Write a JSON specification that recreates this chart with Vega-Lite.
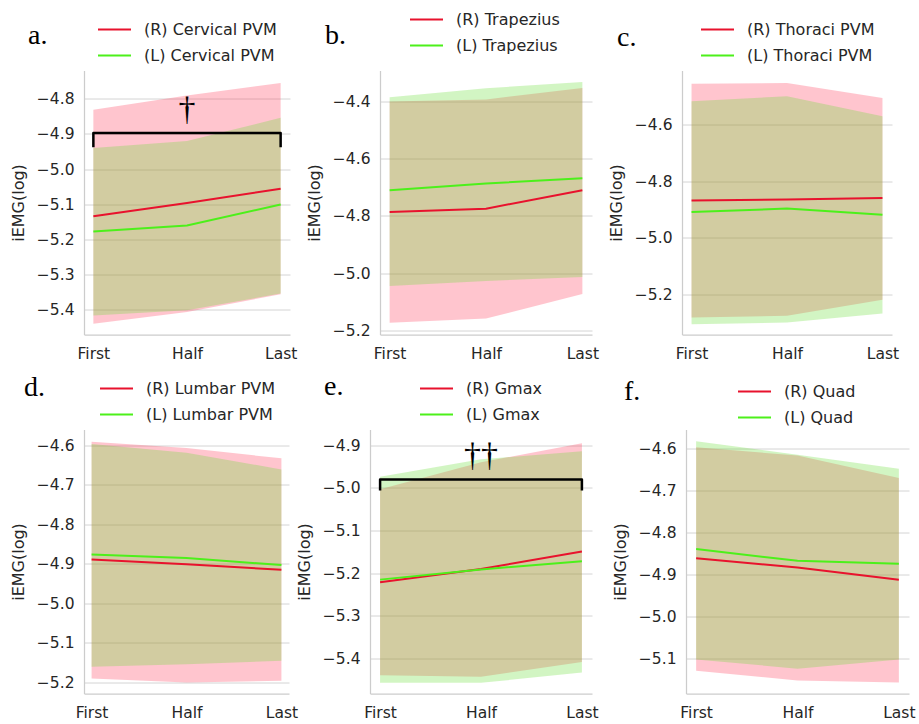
{
  "$schema": "https://vega.github.io/schema/vega-lite/v6.json",
  "padding": {"left": 10, "top": 1.5, "right": 0, "bottom": 0},
  "background": "white",
  "config": {
    "view": {"stroke": null},
    "font": "DejaVu Sans",
    "axis": {"domainColor": "#cccccc", "domainWidth": 1.25, "gridColor": "#d4d4d4", "gridWidth": 1, "tickSize": 0, "labelFont": "DejaVu Sans", "labelFontSize": 15.5, "labelColor": "#262626", "titleFont": "DejaVu Sans", "titleFontSize": 16, "titleFontWeight": "normal", "titleColor": "#262626", "labelPadding": 10, "titlePadding": 10},
    "axisX": {"labelPadding": 12},
    "legend": {"orient": "none", "title": null, "symbolType": "stroke", "symbolSize": 1089, "symbolStrokeWidth": 2, "labelFont": "DejaVu Sans", "labelFontSize": 16, "labelColor": "#262626", "rowPadding": -8, "padding": 0, "labelOffset": 12},
    "title": {"anchor": "start", "frame": "group", "font": "Liberation Serif", "fontSize": 28, "fontWeight": "normal", "color": "black", "baseline": "alphabetic", "offset": 0}
  },
  "datasets": {
    "m": [
      {"p": "a", "s": "R", "lab": "(R) Cervical PVM", "t": "First", "mean": -5.135, "lo": -5.441, "hi": -4.831},
      {"p": "a", "s": "R", "lab": "(R) Cervical PVM", "t": "Half", "mean": -5.097, "lo": -5.408, "hi": -4.790},
      {"p": "a", "s": "R", "lab": "(R) Cervical PVM", "t": "Last", "mean": -5.056, "lo": -5.357, "hi": -4.755},
      {"p": "a", "s": "L", "lab": "(L) Cervical PVM", "t": "First", "mean": -5.178, "lo": -5.418, "hi": -4.940},
      {"p": "a", "s": "L", "lab": "(L) Cervical PVM", "t": "Half", "mean": -5.161, "lo": -5.403, "hi": -4.920},
      {"p": "a", "s": "L", "lab": "(L) Cervical PVM", "t": "Last", "mean": -5.101, "lo": -5.355, "hi": -4.854},
      {"p": "b", "s": "R", "lab": "(R) Trapezius", "t": "First", "mean": -4.787, "lo": -5.173, "hi": -4.401},
      {"p": "b", "s": "R", "lab": "(R) Trapezius", "t": "Half", "mean": -4.775, "lo": -5.158, "hi": -4.394},
      {"p": "b", "s": "R", "lab": "(R) Trapezius", "t": "Last", "mean": -4.711, "lo": -5.073, "hi": -4.354},
      {"p": "b", "s": "L", "lab": "(L) Trapezius", "t": "First", "mean": -4.711, "lo": -5.045, "hi": -4.386},
      {"p": "b", "s": "L", "lab": "(L) Trapezius", "t": "Half", "mean": -4.687, "lo": -5.027, "hi": -4.355},
      {"p": "b", "s": "L", "lab": "(L) Trapezius", "t": "Last", "mean": -4.669, "lo": -5.013, "hi": -4.333},
      {"p": "c", "s": "R", "lab": "(R) Thoraci PVM", "t": "First", "mean": -4.868, "lo": -5.282, "hi": -4.456},
      {"p": "c", "s": "R", "lab": "(R) Thoraci PVM", "t": "Half", "mean": -4.865, "lo": -5.276, "hi": -4.453},
      {"p": "c", "s": "R", "lab": "(R) Thoraci PVM", "t": "Last", "mean": -4.860, "lo": -5.219, "hi": -4.506},
      {"p": "c", "s": "L", "lab": "(L) Thoraci PVM", "t": "First", "mean": -4.909, "lo": -5.306, "hi": -4.518},
      {"p": "c", "s": "L", "lab": "(L) Thoraci PVM", "t": "Half", "mean": -4.897, "lo": -5.300, "hi": -4.500},
      {"p": "c", "s": "L", "lab": "(L) Thoraci PVM", "t": "Last", "mean": -4.919, "lo": -5.268, "hi": -4.571},
      {"p": "d", "s": "R", "lab": "(R) Lumbar PVM", "t": "First", "mean": -4.889, "lo": -5.190, "hi": -4.591},
      {"p": "d", "s": "R", "lab": "(R) Lumbar PVM", "t": "Half", "mean": -4.901, "lo": -5.200, "hi": -4.607},
      {"p": "d", "s": "R", "lab": "(R) Lumbar PVM", "t": "Last", "mean": -4.915, "lo": -5.196, "hi": -4.633},
      {"p": "d", "s": "L", "lab": "(L) Lumbar PVM", "t": "First", "mean": -4.876, "lo": -5.160, "hi": -4.597},
      {"p": "d", "s": "L", "lab": "(L) Lumbar PVM", "t": "Half", "mean": -4.885, "lo": -5.154, "hi": -4.619},
      {"p": "d", "s": "L", "lab": "(L) Lumbar PVM", "t": "Last", "mean": -4.903, "lo": -5.145, "hi": -4.661},
      {"p": "e", "s": "R", "lab": "(R) Gmax", "t": "First", "mean": -5.221, "lo": -5.439, "hi": -5.003},
      {"p": "e", "s": "R", "lab": "(R) Gmax", "t": "Half", "mean": -5.190, "lo": -5.443, "hi": -4.940},
      {"p": "e", "s": "R", "lab": "(R) Gmax", "t": "Last", "mean": -5.149, "lo": -5.408, "hi": -4.895},
      {"p": "e", "s": "L", "lab": "(L) Gmax", "t": "First", "mean": -5.215, "lo": -5.457, "hi": -4.974},
      {"p": "e", "s": "L", "lab": "(L) Gmax", "t": "Half", "mean": -5.191, "lo": -5.457, "hi": -4.933},
      {"p": "e", "s": "L", "lab": "(L) Gmax", "t": "Last", "mean": -5.172, "lo": -5.433, "hi": -4.914},
      {"p": "f", "s": "R", "lab": "(R) Quad", "t": "First", "mean": -4.862, "lo": -5.129, "hi": -4.598},
      {"p": "f", "s": "R", "lab": "(R) Quad", "t": "Half", "mean": -4.884, "lo": -5.152, "hi": -4.618},
      {"p": "f", "s": "R", "lab": "(R) Quad", "t": "Last", "mean": -4.913, "lo": -5.157, "hi": -4.671},
      {"p": "f", "s": "L", "lab": "(L) Quad", "t": "First", "mean": -4.840, "lo": -5.102, "hi": -4.584},
      {"p": "f", "s": "L", "lab": "(L) Quad", "t": "Half", "mean": -4.868, "lo": -5.124, "hi": -4.616},
      {"p": "f", "s": "L", "lab": "(L) Quad", "t": "Last", "mean": -4.875, "lo": -5.102, "hi": -4.649}
    ],
    "br": [
      {"p": "a", "t": "First", "y": -4.938, "o": 1},
      {"p": "a", "t": "First", "y": -4.897, "o": 2},
      {"p": "a", "t": "Last", "y": -4.897, "o": 3},
      {"p": "a", "t": "Last", "y": -4.938, "o": 4},
      {"p": "e", "t": "First", "y": -5.006, "o": 1},
      {"p": "e", "t": "First", "y": -4.980, "o": 2},
      {"p": "e", "t": "Last", "y": -4.980, "o": 3},
      {"p": "e", "t": "Last", "y": -5.006, "o": 4}
    ],
    "dg": [
      {"p": "a", "t": "Half", "y": -4.832, "sym": "†"},
      {"p": "e", "t": "Half", "y": -4.925, "sym": "††"}
    ]
  },
  "resolve": {"scale": {"color": "independent", "fill": "independent"}, "legend": {"color": "independent"}},
  "spacing": 8,
  "vconcat": [
    {
      "hconcat": [
        {
          "width": 206, "height": 264,
          "title": {"text": "a.", "dx": -56, "dy": 42},
          "layer": [
            {"data": {"name": "m"}, "transform": [{"filter": "datum.p === 'a' && datum.s === 'R'"}], "mark": {"type": "area", "opacity": 0.3, "color": "#ff3e5c"},
             "encoding": {"x": {"field": "t", "type": "ordinal", "scale": {"type": "point", "domain": ["First", "Half", "Last"], "padding": 0.1}, "axis": {"title": null, "labelAngle": 0}},
                          "y": {"field": "lo", "type": "quantitative", "scale": {"domain": [-5.472, -4.719], "nice": false, "zero": false}, "axis": {"title": "iEMG(log)", "values": [-5.4, -5.3, -5.2, -5.1, -5.0, -4.9, -4.8], "format": ".1f"}},
                          "y2": {"field": "hi"}}},
            {"data": {"name": "m"}, "transform": [{"filter": "datum.p === 'a' && datum.s === 'L'"}], "mark": {"type": "area", "opacity": 0.3, "color": "#69de37"},
             "encoding": {"x": {"field": "t", "type": "ordinal"}, "y": {"field": "lo", "type": "quantitative"}, "y2": {"field": "hi"}}},
            {"data": {"name": "m"}, "transform": [{"filter": "datum.p === 'a'"}], "mark": {"type": "line", "strokeWidth": 2},
             "encoding": {"x": {"field": "t", "type": "ordinal"}, "y": {"field": "mean", "type": "quantitative"},
                          "color": {"field": "lab", "type": "nominal", "scale": {"domain": ["(R) Cervical PVM", "(L) Cervical PVM"], "range": ["#e8122d", "#4cf01a"]}, "legend": {"legendX": 13, "legendY": -58.5}}}},
            {"data": {"name": "br"}, "transform": [{"filter": "datum.p === 'a'"}], "mark": {"type": "line", "color": "black", "strokeWidth": 2.5, "strokeJoin": "round"},
             "encoding": {"x": {"field": "t", "type": "ordinal"}, "y": {"field": "y", "type": "quantitative"}, "order": {"field": "o", "type": "quantitative"}}},
            {"data": {"name": "dg"}, "transform": [{"filter": "datum.p === 'a'"}], "mark": {"type": "text", "font": "Liberation Serif", "fontSize": 34, "baseline": "middle", "color": "black"},
             "encoding": {"x": {"field": "t", "type": "ordinal"}, "y": {"field": "y", "type": "quantitative"}, "text": {"field": "sym"}}}
          ]
        },
        {
          "width": 212, "height": 264,
          "title": {"text": "b.", "dx": -55, "dy": 52},
          "layer": [
            {"data": {"name": "m"}, "transform": [{"filter": "datum.p === 'b' && datum.s === 'R'"}], "mark": {"type": "area", "opacity": 0.3, "color": "#ff3e5c"},
             "encoding": {"x": {"field": "t", "type": "ordinal", "scale": {"type": "point", "domain": ["First", "Half", "Last"], "padding": 0.1}, "axis": {"title": null, "labelAngle": 0}},
                          "y": {"field": "lo", "type": "quantitative", "scale": {"domain": [-5.214, -4.293], "nice": false, "zero": false}, "axis": {"title": "iEMG(log)", "values": [-5.2, -5.0, -4.8, -4.6, -4.4], "format": ".1f"}},
                          "y2": {"field": "hi"}}},
            {"data": {"name": "m"}, "transform": [{"filter": "datum.p === 'b' && datum.s === 'L'"}], "mark": {"type": "area", "opacity": 0.3, "color": "#69de37"},
             "encoding": {"x": {"field": "t", "type": "ordinal"}, "y": {"field": "lo", "type": "quantitative"}, "y2": {"field": "hi"}}},
            {"data": {"name": "m"}, "transform": [{"filter": "datum.p === 'b'"}], "mark": {"type": "line", "strokeWidth": 2},
             "encoding": {"x": {"field": "t", "type": "ordinal"}, "y": {"field": "mean", "type": "quantitative"},
                          "color": {"field": "lab", "type": "nominal", "scale": {"domain": ["(R) Trapezius", "(L) Trapezius"], "range": ["#e8122d", "#4cf01a"]}, "legend": {"legendX": 29, "legendY": -68.5}}}}
          ]
        },
        {
          "width": 210, "height": 264,
          "title": {"text": "c.", "dx": -65, "dy": 44},
          "layer": [
            {"data": {"name": "m"}, "transform": [{"filter": "datum.p === 'c' && datum.s === 'R'"}], "mark": {"type": "area", "opacity": 0.3, "color": "#ff3e5c"},
             "encoding": {"x": {"field": "t", "type": "ordinal", "scale": {"type": "point", "domain": ["First", "Half", "Last"], "padding": 0.1}, "axis": {"title": null, "labelAngle": 0}},
                          "y": {"field": "lo", "type": "quantitative", "scale": {"domain": [-5.342, -4.409], "nice": false, "zero": false}, "axis": {"title": "iEMG(log)", "values": [-5.2, -5.0, -4.8, -4.6], "format": ".1f"}},
                          "y2": {"field": "hi"}}},
            {"data": {"name": "m"}, "transform": [{"filter": "datum.p === 'c' && datum.s === 'L'"}], "mark": {"type": "area", "opacity": 0.3, "color": "#69de37"},
             "encoding": {"x": {"field": "t", "type": "ordinal"}, "y": {"field": "lo", "type": "quantitative"}, "y2": {"field": "hi"}}},
            {"data": {"name": "m"}, "transform": [{"filter": "datum.p === 'c'"}], "mark": {"type": "line", "strokeWidth": 2},
             "encoding": {"x": {"field": "t", "type": "ordinal"}, "y": {"field": "mean", "type": "quantitative"},
                          "color": {"field": "lab", "type": "nominal", "scale": {"domain": ["(R) Thoraci PVM", "(L) Thoraci PVM"], "range": ["#e8122d", "#4cf01a"]}, "legend": {"legendX": 18, "legendY": -58.5}}}}
          ]
        }
      ],
      "spacing": 90,
      "bounds": "flush",
      "resolve": {"scale": {"color": "independent", "fill": "independent"}, "legend": {"color": "independent"}}
    },
    {
      "hconcat": [
        {
          "width": 205, "height": 264,
          "title": {"text": "d.", "dx": -60, "dy": 35},
          "layer": [
            {"data": {"name": "m"}, "transform": [{"filter": "datum.p === 'd' && datum.s === 'R'"}], "mark": {"type": "area", "opacity": 0.3, "color": "#ff3e5c"},
             "encoding": {"x": {"field": "t", "type": "ordinal", "scale": {"type": "point", "domain": ["First", "Half", "Last"], "padding": 0.08}, "axis": {"title": null, "labelAngle": 0}},
                          "y": {"field": "lo", "type": "quantitative", "scale": {"domain": [-5.228, -4.56], "nice": false, "zero": false}, "axis": {"title": "iEMG(log)", "values": [-5.2, -5.1, -5.0, -4.9, -4.8, -4.7, -4.6], "format": ".1f"}},
                          "y2": {"field": "hi"}}},
            {"data": {"name": "m"}, "transform": [{"filter": "datum.p === 'd' && datum.s === 'L'"}], "mark": {"type": "area", "opacity": 0.3, "color": "#69de37"},
             "encoding": {"x": {"field": "t", "type": "ordinal"}, "y": {"field": "lo", "type": "quantitative"}, "y2": {"field": "hi"}}},
            {"data": {"name": "m"}, "transform": [{"filter": "datum.p === 'd'"}], "mark": {"type": "line", "strokeWidth": 2},
             "encoding": {"x": {"field": "t", "type": "ordinal"}, "y": {"field": "mean", "type": "quantitative"},
                          "color": {"field": "lab", "type": "nominal", "scale": {"domain": ["(R) Lumbar PVM", "(L) Lumbar PVM"], "range": ["#e8122d", "#4cf01a"]}, "legend": {"legendX": 15, "legendY": -58.5}}}}
          ]
        },
        {
          "hconcat": [
            {
              "width": 222, "height": 264,
              "title": {"text": "e.", "dx": -46, "dy": 34},
              "layer": [
                {"data": {"name": "m"}, "transform": [{"filter": "datum.p === 'e' && datum.s === 'R'"}], "mark": {"type": "area", "opacity": 0.3, "color": "#ff3e5c"},
                 "encoding": {"x": {"field": "t", "type": "ordinal", "scale": {"type": "point", "domain": ["First", "Half", "Last"], "padding": 0.1}, "axis": {"title": null, "labelAngle": 0}},
                              "y": {"field": "lo", "type": "quantitative", "scale": {"domain": [-5.482, -4.863], "nice": false, "zero": false}, "axis": {"title": "iEMG(log)", "values": [-5.4, -5.3, -5.2, -5.1, -5.0, -4.9], "format": ".1f"}},
                              "y2": {"field": "hi"}}},
                {"data": {"name": "m"}, "transform": [{"filter": "datum.p === 'e' && datum.s === 'L'"}], "mark": {"type": "area", "opacity": 0.3, "color": "#69de37"},
                 "encoding": {"x": {"field": "t", "type": "ordinal"}, "y": {"field": "lo", "type": "quantitative"}, "y2": {"field": "hi"}}},
                {"data": {"name": "m"}, "transform": [{"filter": "datum.p === 'e'"}], "mark": {"type": "line", "strokeWidth": 2},
                 "encoding": {"x": {"field": "t", "type": "ordinal"}, "y": {"field": "mean", "type": "quantitative"},
                              "color": {"field": "lab", "type": "nominal", "scale": {"domain": ["(R) Gmax", "(L) Gmax"], "range": ["#e8122d", "#4cf01a"]}, "legend": {"legendX": 49, "legendY": -58.5}}}},
                {"data": {"name": "br"}, "transform": [{"filter": "datum.p === 'e'"}], "mark": {"type": "line", "color": "black", "strokeWidth": 2.5, "strokeJoin": "round"},
                 "encoding": {"x": {"field": "t", "type": "ordinal"}, "y": {"field": "y", "type": "quantitative"}, "order": {"field": "o", "type": "quantitative"}}},
                {"data": {"name": "dg"}, "transform": [{"filter": "datum.p === 'e'"}], "mark": {"type": "text", "font": "Liberation Serif", "fontSize": 34, "baseline": "middle", "color": "black"},
                 "encoding": {"x": {"field": "t", "type": "ordinal"}, "y": {"field": "y", "type": "quantitative"}, "text": {"field": "sym"}}}
              ]
            },
            {
              "width": 223, "height": 264,
              "title": {"text": "f.", "dx": -62, "dy": 36},
              "layer": [
                {"data": {"name": "m"}, "transform": [{"filter": "datum.p === 'f' && datum.s === 'R'"}], "mark": {"type": "area", "opacity": 0.3, "color": "#ff3e5c"},
                 "encoding": {"x": {"field": "t", "type": "ordinal", "scale": {"type": "point", "domain": ["First", "Half", "Last"], "padding": 0.1}, "axis": {"title": null, "labelAngle": 0}},
                              "y": {"field": "lo", "type": "quantitative", "scale": {"domain": [-5.183, -4.556], "nice": false, "zero": false}, "axis": {"title": "iEMG(log)", "values": [-5.1, -5.0, -4.9, -4.8, -4.7, -4.6], "format": ".1f"}},
                              "y2": {"field": "hi"}}},
                {"data": {"name": "m"}, "transform": [{"filter": "datum.p === 'f' && datum.s === 'L'"}], "mark": {"type": "area", "opacity": 0.3, "color": "#69de37"},
                 "encoding": {"x": {"field": "t", "type": "ordinal"}, "y": {"field": "lo", "type": "quantitative"}, "y2": {"field": "hi"}}},
                {"data": {"name": "m"}, "transform": [{"filter": "datum.p === 'f'"}], "mark": {"type": "line", "strokeWidth": 2},
                 "encoding": {"x": {"field": "t", "type": "ordinal"}, "y": {"field": "mean", "type": "quantitative"},
                              "color": {"field": "lab", "type": "nominal", "scale": {"domain": ["(R) Quad", "(L) Quad"], "range": ["#e8122d", "#4cf01a"]}, "legend": {"legendX": 51, "legendY": -55.5}}}}
              ]
            }
          ],
          "spacing": 94,
          "bounds": "flush",
          "resolve": {"scale": {"color": "independent", "fill": "independent"}, "legend": {"color": "independent"}}
        }
      ],
      "spacing": 81,
      "bounds": "flush",
      "resolve": {"scale": {"color": "independent", "fill": "independent"}, "legend": {"color": "independent"}}
    }
  ]
}
